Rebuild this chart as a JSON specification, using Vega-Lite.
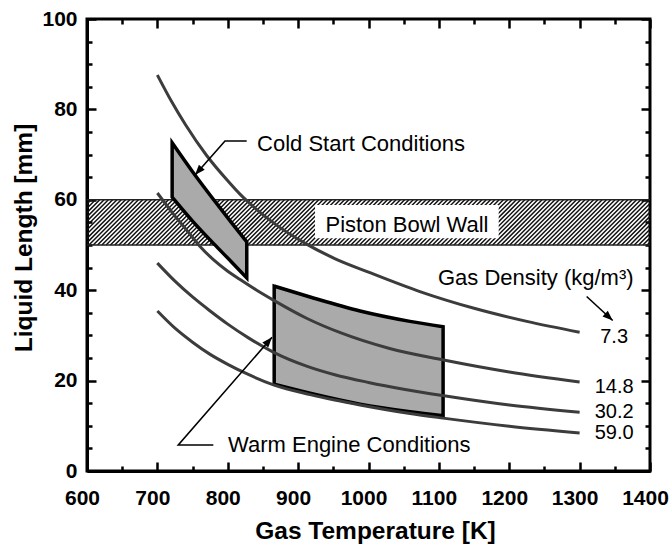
{
  "$schema": "https://vega.github.io/schema/vega-lite/v6.json",
  "width": 563,
  "height": 452,
  "autosize": {"type": "none"},
  "padding": {"left": 87, "top": 19, "right": 21, "bottom": 77},
  "background": "white",
  "config": {
    "view": {"stroke": "#000000", "strokeWidth": 3},
    "font": "Liberation Sans",
    "axis": {
      "domainColor": "#000000",
      "domainWidth": 3,
      "labelColor": "#000000",
      "labelFont": "Liberation Sans",
      "labelFontSize": 21,
      "labelFontWeight": "bold",
      "titleColor": "#000000",
      "titleFont": "Liberation Sans",
      "titleFontSize": 24.5,
      "titleFontWeight": "bold",
      "labelFlush": false,
      "labelOverlap": false,
      "labelBound": false
    }
  },
  "datasets": {
    "curves": [
      {"density": "7.3", "T": 700, "L": 87.6},
      {"density": "7.3", "T": 720, "L": 81.8},
      {"density": "7.3", "T": 740, "L": 76.6},
      {"density": "7.3", "T": 770, "L": 69.8},
      {"density": "7.3", "T": 800, "L": 64.2},
      {"density": "7.3", "T": 817, "L": 61.3},
      {"density": "7.3", "T": 840, "L": 58.0},
      {"density": "7.3", "T": 865, "L": 54.9},
      {"density": "7.3", "T": 912, "L": 50.2},
      {"density": "7.3", "T": 952, "L": 47.0},
      {"density": "7.3", "T": 1000, "L": 44.0},
      {"density": "7.3", "T": 1073, "L": 39.7},
      {"density": "7.3", "T": 1150, "L": 36.0},
      {"density": "7.3", "T": 1225, "L": 33.1},
      {"density": "7.3", "T": 1300, "L": 30.7},
      {"density": "14.8", "T": 700, "L": 61.5},
      {"density": "14.8", "T": 722, "L": 57.0},
      {"density": "14.8", "T": 740, "L": 53.6},
      {"density": "14.8", "T": 760, "L": 49.8},
      {"density": "14.8", "T": 780, "L": 46.7},
      {"density": "14.8", "T": 800, "L": 44.2},
      {"density": "14.8", "T": 817, "L": 42.4},
      {"density": "14.8", "T": 840, "L": 40.1},
      {"density": "14.8", "T": 866, "L": 37.7},
      {"density": "14.8", "T": 912, "L": 33.8},
      {"density": "14.8", "T": 960, "L": 30.6},
      {"density": "14.8", "T": 1030, "L": 27.1},
      {"density": "14.8", "T": 1105, "L": 24.6},
      {"density": "14.8", "T": 1200, "L": 21.9},
      {"density": "14.8", "T": 1300, "L": 19.7},
      {"density": "30.2", "T": 700, "L": 46.0},
      {"density": "30.2", "T": 725, "L": 42.0},
      {"density": "30.2", "T": 750, "L": 38.5},
      {"density": "30.2", "T": 775, "L": 35.4},
      {"density": "30.2", "T": 800, "L": 32.5},
      {"density": "30.2", "T": 830, "L": 29.4},
      {"density": "30.2", "T": 866, "L": 26.2},
      {"density": "30.2", "T": 912, "L": 23.2},
      {"density": "30.2", "T": 952, "L": 21.3},
      {"density": "30.2", "T": 1000, "L": 19.6},
      {"density": "30.2", "T": 1050, "L": 18.1},
      {"density": "30.2", "T": 1105, "L": 16.7},
      {"density": "30.2", "T": 1200, "L": 14.6},
      {"density": "30.2", "T": 1300, "L": 13.0},
      {"density": "59.0", "T": 700, "L": 35.4},
      {"density": "59.0", "T": 725, "L": 31.6},
      {"density": "59.0", "T": 750, "L": 28.5},
      {"density": "59.0", "T": 775, "L": 25.8},
      {"density": "59.0", "T": 800, "L": 23.6},
      {"density": "59.0", "T": 830, "L": 21.3},
      {"density": "59.0", "T": 866, "L": 19.0},
      {"density": "59.0", "T": 917, "L": 16.9},
      {"density": "59.0", "T": 952, "L": 15.7},
      {"density": "59.0", "T": 988, "L": 14.6},
      {"density": "59.0", "T": 1059, "L": 12.7},
      {"density": "59.0", "T": 1106, "L": 11.7},
      {"density": "59.0", "T": 1200, "L": 9.9},
      {"density": "59.0", "T": 1300, "L": 8.4}
    ],
    "regions": [
      {"region": "cold", "T": 721, "top": 72.6, "bottom": 60.6},
      {"region": "cold", "T": 750, "top": 66.2, "bottom": 55.3},
      {"region": "cold", "T": 780, "top": 60.0, "bottom": 50.3},
      {"region": "cold", "T": 805, "top": 55.0, "bottom": 46.3},
      {"region": "cold", "T": 827, "top": 50.7, "bottom": 42.7},
      {"region": "warm", "T": 866, "top": 40.9, "bottom": 19.2},
      {"region": "warm", "T": 917, "top": 38.5, "bottom": 17.2},
      {"region": "warm", "T": 988, "top": 35.4, "bottom": 14.8},
      {"region": "warm", "T": 1059, "top": 33.1, "bottom": 13.1},
      {"region": "warm", "T": 1106, "top": 31.9, "bottom": 12.2}
    ],
    "leaders": [
      {"leader": "cold", "seq": 0, "T": 826.9, "L": 73.0},
      {"leader": "cold", "seq": 1, "T": 796.1, "L": 73.0},
      {"leader": "cold", "seq": 2, "T": 753.5, "L": 65.5},
      {"leader": "warm", "seq": 0, "T": 779.5, "L": 5.75},
      {"leader": "warm", "seq": 1, "T": 729.7, "L": 5.75},
      {"leader": "warm", "seq": 2, "T": 862.9, "L": 29.6},
      {"leader": "density", "seq": 0, "T": 1310, "L": 38.6},
      {"leader": "density", "seq": 1, "T": 1347, "L": 33.3}
    ]
  },
  "layer": [
    {
      "data": {"name": "curves"},
      "mark": {"type": "point", "opacity": 0},
      "encoding": {
        "x": {
          "field": "T", "type": "quantitative", "scale": {"domain": [600, 1400]},
          "axis": {
            "orient": "bottom",
            "format": "d",
            "values": [600, 650, 700, 750, 800, 850, 900, 950, 1000, 1050, 1100, 1150, 1200, 1250, 1300, 1350, 1400],
            "labelExpr": "datum.value % 100 === 0 ? datum.label : ''",
            "ticks": false,
            "grid": true,
            "gridColor": "#000000",
            "gridOpacity": 1,
            "gridWidth": 2.5,
            "gridCap": "butt",
            "gridDash": {"condition": {"test": "datum.value % 100 === 0", "value": [9, 434, 9]}, "value": [5, 442, 5]},
            "labelPadding": 16,
            "labelOffset": -5,
            "title": "Gas Temperature [K]",
            "titleX": 288,
            "titleY": 67.5,
            "titleAlign": "center",
            "titleBaseline": "alphabetic"
          }
        },
        "y": {
          "field": "L", "type": "quantitative", "scale": {"domain": [0, 100]},
          "axis": {
            "orient": "left",
            "format": "d",
            "values": [0, 5, 10, 15, 20, 25, 30, 35, 40, 45, 50, 55, 60, 65, 70, 75, 80, 85, 90, 95, 100],
            "labelExpr": "datum.value % 20 === 0 ? datum.label : ''",
            "ticks": false,
            "grid": true,
            "gridColor": "#000000",
            "gridOpacity": 1,
            "gridWidth": 2.5,
            "gridCap": "butt",
            "gridDash": {"condition": {"test": "datum.value % 20 === 0", "value": [9, 545, 9]}, "value": [5, 553, 5]},
            "labelPadding": 10,
            "title": "Liquid Length [mm]",
            "titleX": -55.3,
            "titleY": 218.5,
            "titleAngle": -90,
            "titleAlign": "center",
            "titleBaseline": "alphabetic"
          }
        }
      }
    },
    {
      "data": {"values": [{}]},
      "mark": {
        "type": "point",
        "clip": true,
        "filled": false,
        "opacity": 1,
        "stroke": "#111111",
        "strokeWidth": 1.5,
        "size": 2043,
        "shape": "M-14.27,1l2,-2m-1.81,2l2,-2m-1.81,2l2,-2m-1.81,2l2,-2m-1.81,2l2,-2m-1.81,2l2,-2m-1.81,2l2,-2m-1.81,2l2,-2m-1.81,2l2,-2m-1.81,2l2,-2m-1.81,2l2,-2m-1.81,2l2,-2m-1.81,2l2,-2m-1.81,2l2,-2m-1.81,2l2,-2m-1.81,2l2,-2m-1.81,2l2,-2m-1.81,2l2,-2m-1.81,2l2,-2m-1.81,2l2,-2m-1.81,2l2,-2m-1.81,2l2,-2m-1.81,2l2,-2m-1.81,2l2,-2m-1.81,2l2,-2m-1.81,2l2,-2m-1.81,2l2,-2m-1.81,2l2,-2m-1.81,2l2,-2m-1.81,2l2,-2m-1.81,2l2,-2m-1.81,2l2,-2m-1.81,2l2,-2m-1.81,2l2,-2m-1.81,2l2,-2m-1.81,2l2,-2m-1.81,2l2,-2m-1.81,2l2,-2m-1.81,2l2,-2m-1.81,2l2,-2m-1.81,2l2,-2m-1.81,2l2,-2m-1.81,2l2,-2m-1.81,2l2,-2m-1.81,2l2,-2m-1.81,2l2,-2m-1.81,2l2,-2m-1.81,2l2,-2m-1.81,2l2,-2m-1.81,2l2,-2m-1.81,2l2,-2m-1.81,2l2,-2m-1.81,2l2,-2m-1.81,2l2,-2m-1.81,2l2,-2m-1.81,2l2,-2m-1.81,2l2,-2m-1.81,2l2,-2m-1.81,2l2,-2m-1.81,2l2,-2m-1.81,2l2,-2m-1.81,2l2,-2m-1.81,2l2,-2m-1.81,2l2,-2m-1.81,2l2,-2m-1.81,2l2,-2m-1.81,2l2,-2m-1.81,2l2,-2m-1.81,2l2,-2m-1.81,2l2,-2m-1.81,2l2,-2m-1.81,2l2,-2m-1.81,2l2,-2m-1.81,2l2,-2m-1.81,2l2,-2m-1.81,2l2,-2m-1.81,2l2,-2m-1.81,2l2,-2m-1.81,2l2,-2m-1.81,2l2,-2m-1.81,2l2,-2m-1.81,2l2,-2m-1.81,2l2,-2m-1.81,2l2,-2m-1.81,2l2,-2m-1.81,2l2,-2m-1.81,2l2,-2m-1.81,2l2,-2m-1.81,2l2,-2m-1.81,2l2,-2m-1.81,2l2,-2m-1.81,2l2,-2m-1.81,2l2,-2m-1.81,2l2,-2m-1.81,2l2,-2m-1.81,2l2,-2m-1.81,2l2,-2m-1.81,2l2,-2m-1.81,2l2,-2m-1.81,2l2,-2m-1.81,2l2,-2m-1.81,2l2,-2m-1.81,2l2,-2m-1.81,2l2,-2m-1.81,2l2,-2m-1.81,2l2,-2m-1.81,2l2,-2m-1.81,2l2,-2m-1.81,2l2,-2m-1.81,2l2,-2m-1.81,2l2,-2m-1.81,2l2,-2m-1.81,2l2,-2m-1.81,2l2,-2m-1.81,2l2,-2m-1.81,2l2,-2m-1.81,2l2,-2m-1.81,2l2,-2m-1.81,2l2,-2m-1.81,2l2,-2m-1.81,2l2,-2m-1.81,2l2,-2m-1.81,2l2,-2m-1.81,2l2,-2m-1.81,2l2,-2m-1.81,2l2,-2m-1.81,2l2,-2m-1.81,2l2,-2m-1.81,2l2,-2m-1.81,2l2,-2m-1.81,2l2,-2m-1.81,2l2,-2m-1.81,2l2,-2m-1.81,2l2,-2m-1.81,2l2,-2m-1.81,2l2,-2m-1.81,2l2,-2m-1.81,2l2,-2m-1.81,2l2,-2m-1.81,2l2,-2m-1.81,2l2,-2m-1.81,2l2,-2m-1.81,2l2,-2m-1.81,2l2,-2m-1.81,2l2,-2m-1.81,2l2,-2m-1.81,2l2,-2m-1.81,2l2,-2m-1.81,2l2,-2m-1.81,2l2,-2m-1.81,2l2,-2m-1.81,2l2,-2m-1.81,2l2,-2m-1.81,2l2,-2m-1.81,2l2,-2m-1.81,2l2,-2"
      },
      "encoding": {
        "x": {"datum": 1000, "type": "quantitative", "scale": {"domain": [600, 1400]}, "axis": null},
        "y": {"datum": 55, "type": "quantitative", "scale": {"domain": [0, 100]}, "axis": null}
      }
    },
    {
      "data": {"values": [{"L": 50}, {"L": 60}]},
      "mark": {"type": "rule", "color": "#222222", "strokeWidth": 1.6},
      "encoding": {
        "y": {"field": "L", "type": "quantitative", "scale": {"domain": [0, 100]}, "axis": null}
      }
    },
    {
      "data": {"values": [{}]},
      "mark": {"type": "rect", "fill": "white"},
      "encoding": {
        "x": {"datum": 924, "type": "quantitative", "scale": {"domain": [600, 1400]}, "axis": null},
        "x2": {"datum": 1185},
        "y": {"datum": 51.5, "type": "quantitative", "scale": {"domain": [0, 100]}, "axis": null},
        "y2": {"datum": 58.85}
      }
    },
    {
      "data": {"name": "regions"},
      "mark": {"type": "area", "fill": "#aaaaaa", "fillOpacity": 1, "stroke": "#000000", "strokeWidth": 3.5, "strokeJoin": "miter", "interpolate": "monotone"},
      "encoding": {
        "x": {"field": "T", "type": "quantitative", "scale": {"domain": [600, 1400]}, "axis": null},
        "y": {"field": "top", "type": "quantitative", "scale": {"domain": [0, 100]}, "axis": null},
        "y2": {"field": "bottom"},
        "detail": {"field": "region"}
      }
    },
    {
      "data": {"name": "curves"},
      "mark": {"type": "line", "color": "#3c3c3c", "strokeWidth": 3, "interpolate": "monotone"},
      "encoding": {
        "x": {"field": "T", "type": "quantitative", "scale": {"domain": [600, 1400]}, "axis": null},
        "y": {"field": "L", "type": "quantitative", "scale": {"domain": [0, 100]}, "axis": null},
        "detail": {"field": "density"}
      }
    },
    {
      "data": {"name": "leaders"},
      "mark": {"type": "line", "color": "#000000", "strokeWidth": 1.6},
      "encoding": {
        "x": {"field": "T", "type": "quantitative", "scale": {"domain": [600, 1400]}, "axis": null},
        "y": {"field": "L", "type": "quantitative", "scale": {"domain": [0, 100]}, "axis": null},
        "detail": {"field": "leader"},
        "order": {"field": "seq"}
      }
    },
    {
      "data": {"name": "leaders"},
      "transform": [{"filter": "datum.leader === 'cold' && datum.seq === 2"}],
      "mark": {"type": "point", "shape": "M0,0L0.38,1L-0.38,1Z", "filled": true, "fill": "#000000", "strokeWidth": 0, "opacity": 1, "size": 420, "angle": 221.4},
      "encoding": {
        "x": {"field": "T", "type": "quantitative", "scale": {"domain": [600, 1400]}, "axis": null},
        "y": {"field": "L", "type": "quantitative", "scale": {"domain": [0, 100]}, "axis": null}
      }
    },
    {
      "data": {"name": "leaders"},
      "transform": [{"filter": "datum.leader === 'warm' && datum.seq === 2"}],
      "mark": {"type": "point", "shape": "M0,0L0.38,1L-0.38,1Z", "filled": true, "fill": "#000000", "strokeWidth": 0, "opacity": 1, "size": 420, "angle": 40.9},
      "encoding": {
        "x": {"field": "T", "type": "quantitative", "scale": {"domain": [600, 1400]}, "axis": null},
        "y": {"field": "L", "type": "quantitative", "scale": {"domain": [0, 100]}, "axis": null}
      }
    },
    {
      "data": {"name": "leaders"},
      "transform": [{"filter": "datum.leader === 'density' && datum.seq === 1"}],
      "mark": {"type": "point", "shape": "M0,0L0.38,1L-0.38,1Z", "filled": true, "fill": "#000000", "strokeWidth": 0, "opacity": 1, "size": 420, "angle": 132.7},
      "encoding": {
        "x": {"field": "T", "type": "quantitative", "scale": {"domain": [600, 1400]}, "axis": null},
        "y": {"field": "L", "type": "quantitative", "scale": {"domain": [0, 100]}, "axis": null}
      }
    },
    {
      "data": {"values": [
        {"label": "Cold Start Conditions", "T": 841.6, "L": 70.9},
        {"label": "Warm Engine Conditions", "T": 800.4, "L": 4.27}
      ]},
      "mark": {"type": "text", "font": "Liberation Sans", "fontSize": 22, "align": "left", "baseline": "alphabetic", "color": "#000000"},
      "encoding": {
        "x": {"field": "T", "type": "quantitative", "scale": {"domain": [600, 1400]}, "axis": null},
        "y": {"field": "L", "type": "quantitative", "scale": {"domain": [0, 100]}, "axis": null},
        "text": {"field": "label"}
      }
    },
    {
      "data": {"values": [
        {"label": "Piston Bowl Wall", "T": 1054.7, "L": 52.9},
        {"label": "Gas Density (kg/m³)", "T": 1237.7, "L": 41.15}
      ]},
      "mark": {"type": "text", "font": "Liberation Sans", "fontSize": 22, "align": "center", "baseline": "alphabetic", "color": "#000000"},
      "encoding": {
        "x": {"field": "T", "type": "quantitative", "scale": {"domain": [600, 1400]}, "axis": null},
        "y": {"field": "L", "type": "quantitative", "scale": {"domain": [0, 100]}, "axis": null},
        "text": {"field": "label"}
      }
    },
    {
      "data": {"values": [
        {"label": "7.3", "T": 1349, "L": 28.25},
        {"label": "14.8", "T": 1349, "L": 17.2},
        {"label": "30.2", "T": 1349, "L": 11.66},
        {"label": "59.0", "T": 1349, "L": 7.08}
      ]},
      "mark": {"type": "text", "font": "Liberation Sans", "fontSize": 20, "align": "center", "baseline": "alphabetic", "color": "#000000"},
      "encoding": {
        "x": {"field": "T", "type": "quantitative", "scale": {"domain": [600, 1400]}, "axis": null},
        "y": {"field": "L", "type": "quantitative", "scale": {"domain": [0, 100]}, "axis": null},
        "text": {"field": "label"}
      }
    }
  ],
  "resolve": {"axis": {"x": "independent", "y": "independent"}}
}
